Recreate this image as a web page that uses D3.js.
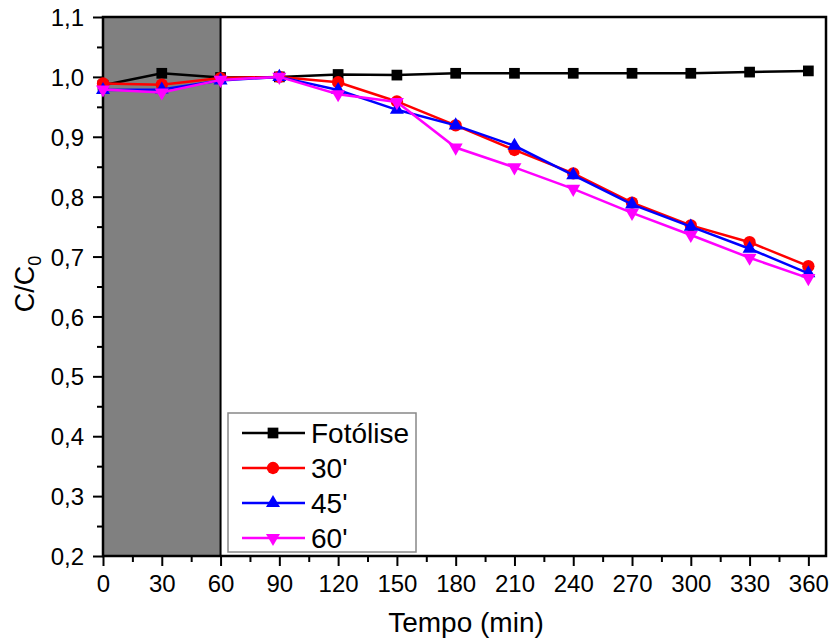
<!DOCTYPE html>
<html lang="pt">
<head>
    <meta charset="UTF-8">
    <title>C/C0 vs Tempo</title>
    <script src="https://cdnjs.cloudflare.com/ajax/libs/d3/7.8.5/d3.min.js"></script>
    <style>
        body { margin: 0; background: #fff; }
        svg { display: block; font-family: "Liberation Sans", Arial, sans-serif; }
    </style>
</head>
<body>
<svg width="829" height="641"></svg>
<script>
    const tempo = [0, 30, 60, 90, 120, 150, 180, 210, 240, 270, 300, 330, 360];
    const fotolise = [0.986, 1.006, 0.999, 1.0, 1.004, 1.003, 1.006, 1.006, 1.006, 1.006, 1.006, 1.008, 1.010];
    const s30 = [0.989, 0.987, 0.998, 1.0, 0.991, 0.959, 0.919, 0.878, 0.839, 0.790, 0.752, 0.724, 0.684];
    const s45 = [0.978, 0.979, 0.994, 1.0, 0.978, 0.945, 0.919, 0.885, 0.836, 0.787, 0.750, 0.713, 0.672];
    const s60 = [0.979, 0.974, 0.995, 1.0, 0.971, 0.958, 0.882, 0.849, 0.813, 0.773, 0.736, 0.698, 0.664];
    const seriesNames = ["Fotólise", "30'", "45'", "60'"];
    const xTicks = [0, 30, 60, 90, 120, 150, 180, 210, 240, 270, 300, 330, 360];
    const yTicks = [0.2, 0.3, 0.4, 0.5, 0.6, 0.7, 0.8, 0.9, 1.0, 1.1];
    const darkRange = [0, 60];

    const series = [
        {name: seriesNames[0], values: fotolise, color: '#000000', symbol: d3.symbolSquare, size: 115, rot: 0},
        {name: seriesNames[1], values: s30, color: '#ff0000', symbol: d3.symbolCircle, size: 120, rot: 0},
        {name: seriesNames[2], values: s45, color: '#0000ff', symbol: d3.symbolTriangle, size: 85, rot: 0},
        {name: seriesNames[3], values: s60, color: '#ff00ff', symbol: d3.symbolTriangle, size: 85, rot: 180}
    ];

    const svg = d3.select('svg');
    const mLeft = 103, mRight = 826, mTop = 17, mBottom = 556;

    const x = d3.scaleLinear().domain([0, 369]).range([mLeft, mRight]);
    const y = d3.scaleLinear().domain([0.2, 1.1]).range([mBottom, mTop]);
    const fmt = d => d3.format('.1f')(d).replace('.', ',');

    // dark period
    svg.append('rect')
        .attr('x', x(darkRange[0]))
        .attr('y', mTop)
        .attr('width', x(darkRange[1]) - x(darkRange[0]))
        .attr('height', mBottom - mTop)
        .attr('fill', '#808080');
    svg.append('line')
        .attr('x1', x(darkRange[1])).attr('x2', x(darkRange[1]))
        .attr('y1', mTop).attr('y2', mBottom)
        .attr('stroke', '#000').attr('stroke-width', 2);

    // axes
    svg.append('g')
        .attr('transform', `translate(0,${mBottom})`)
        .call(d3.axisBottom(x).tickValues(xTicks).tickSize(10).tickSizeOuter(0).tickPadding(9));
    svg.append('g')
        .attr('transform', `translate(0,${mBottom})`)
        .call(d3.axisBottom(x).tickValues(xTicks.map(d => d + 15)).tickSize(6).tickFormat(''))
        .call(g => g.select('.domain').remove());

    const yAxis = svg.append('g')
        .attr('transform', `translate(${mLeft},0)`)
        .call(d3.axisLeft(y).tickValues(yTicks).tickFormat(fmt).tickSize(10).tickSizeOuter(0).tickPadding(9));
    svg.append('g')
        .attr('transform', `translate(${mLeft},0)`)
        .call(d3.axisLeft(y).tickValues(yTicks.slice(0, -1).map(d => d + 0.05)).tickSize(6).tickFormat(''))
        .call(g => g.select('.domain').remove());

    svg.selectAll('.tick line').attr('stroke', '#000').attr('stroke-width', 2);
    svg.selectAll('.tick text')
        .attr('font-size', '24px')
        .attr('fill', '#000')
        .attr('font-family', '"Liberation Sans", Arial, sans-serif');
    yAxis.selectAll('.tick text').attr('dy', '0.36em');

    // frame
    svg.append('rect')
        .attr('x', mLeft).attr('y', mTop)
        .attr('width', mRight - mLeft).attr('height', mBottom - mTop)
        .attr('fill', 'none')
        .attr('stroke', '#000')
        .attr('stroke-width', 2.5);

    // lines and markers
    const line = d3.line()
        .x((d, i) => x(tempo[i]))
        .y(d => y(d));

    series.forEach(s => {
        svg.append('path')
            .datum(s.values)
            .attr('d', line)
            .attr('fill', 'none')
            .attr('stroke', s.color)
            .attr('stroke-width', 2.5);
        svg.append('g')
            .selectAll('path')
            .data(s.values)
            .join('path')
            .attr('d', d3.symbol().type(s.symbol).size(s.size))
            .attr('transform', (d, i) => `translate(${x(tempo[i])},${y(d)}) rotate(${s.rot})`)
            .attr('fill', s.color);
    });

    // legend
    const leg = svg.append('g').attr('transform', 'translate(228,413)');
    leg.append('rect')
        .attr('width', 188).attr('height', 139)
        .attr('fill', '#fff')
        .attr('stroke', '#888')
        .attr('stroke-width', 1.5);
    series.forEach((s, i) => {
        const gy = 20 + i * 35;
        leg.append('line')
            .attr('x1', 14).attr('x2', 77)
            .attr('y1', gy).attr('y2', gy)
            .attr('stroke', s.color).attr('stroke-width', 2.5);
        leg.append('path')
            .attr('d', d3.symbol().type(s.symbol).size(s.size))
            .attr('transform', `translate(45,${gy}) rotate(${s.rot})`)
            .attr('fill', s.color);
        leg.append('text')
            .attr('x', 83).attr('y', gy)
            .attr('dy', '0.36em')
            .attr('font-size', '28px')
            .text(s.name);
    });

    // axis titles
    svg.append('text')
        .attr('x', 466).attr('y', 632)
        .attr('text-anchor', 'middle')
        .attr('font-size', '28px')
        .text('Tempo (min)');

    const yt = svg.append('text')
        .attr('transform', 'translate(34,284) rotate(-90)')
        .attr('text-anchor', 'middle')
        .attr('font-size', '27px');
    yt.append('tspan').text('C/C');
    yt.append('tspan').attr('font-size', '18px').attr('dy', '7').text('0');
</script>
</body>
</html>
